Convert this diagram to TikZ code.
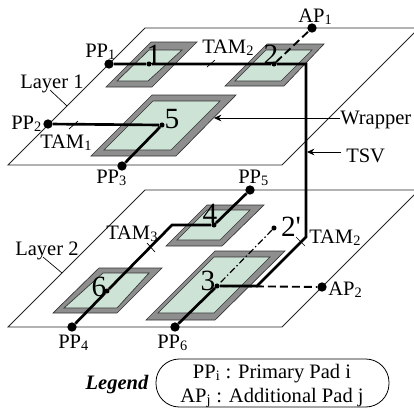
\documentclass[tikz,border=0pt]{standalone}
\usepackage{fontspec}
\setmainfont{Liberation Serif}
\usetikzlibrary{arrows.meta}
\definecolor{corefill}{RGB}{204,227,214}
\definecolor{wrapfill}{RGB}{142,142,142}
\tikzset{
	plane/.style={draw=black!85, line width=0.6pt},
	wrapper/.style={draw=black!80, fill=wrapfill, line width=0.5pt},
	core/.style={draw=black!80, fill=corefill, line width=0.5pt},
	pad/.style={circle, fill=black, inner sep=0pt, minimum size=7pt},
	pin/.style={circle, fill=black, inner sep=0pt, minimum size=3.8pt},
	tam/.style={line width=2pt},
	lbl/.style={inner sep=0pt, font=\fontsize{15.4}{15.4}\selectfont},
	num/.style={inner sep=0pt, font=\fontsize{22}{22}\selectfont},
	thin line/.style={line width=0.5pt},
	lead/.style={line width=0.6pt, -{Stealth[length=5.5pt,width=5pt]}}
}
\begin{document}
\begin{tikzpicture}[x=0.75pt, y=-0.75pt]
	\useasboundingbox (0,0) rectangle (414,408);
	% Layer 1
	\draw[plane] (8,165) -- (145,28) -- (419,28) -- (282,165) -- cycle;
	\draw[wrapper] (151,42) -- (197,42) -- (152,87) -- (106,87) -- cycle;
	\draw[core] (149,50) -- (182,50) -- (148,81) -- (117,81) -- cycle;
	\draw[wrapper] (267,44) -- (324,44) -- (284,86) -- (225,86) -- cycle;
	\draw[core] (266,50) -- (312,50) -- (281,81) -- (235,81) -- cycle;
	\draw[wrapper] (152,95) -- (236,95) -- (176,156) -- (91,156) -- cycle;
	\draw[core] (153,101) -- (220,101) -- (171,150) -- (104,150) -- cycle;

	% Layer 2
	\draw[plane] (8,327) -- (145,190) -- (419,190) -- (282,327) -- cycle;
	\draw[wrapper] (207,205) -- (264,205) -- (222,246) -- (166,246) -- cycle;
	\draw[core] (207,210) -- (250,210) -- (220,240) -- (177,240) -- cycle;
	\draw[wrapper] (99,268) -- (162,268) -- (117,313) -- (53,313) -- cycle;
	\draw[core] (103,273) -- (149,273) -- (117,308) -- (64,308) -- cycle;
	\draw[wrapper] (215,251) -- (285,251) -- (215,320) -- (146,320) -- cycle;
	\draw[core] (214,257) -- (270,257) -- (214,313) -- (158,313) -- cycle;

	% Pads and pins
	\node[pad] (pp1) at (109,64) {};
	\node[pad] (pp2) at (48,124) {};
	\node[pad] (pp3) at (122,166) {};
	\node[pad] (pp4) at (72,327) {};
	\node[pad] (pp5) at (250,190) {};
	\node[pad] (pp6) at (175,327) {};
	\node[pad] (ap1) at (312,28) {};
	\node[pad] (ap2) at (322,287) {};
	\node[pin] (core1) at (149,64) {};
	\node[pin] (core2) at (274,64) {};
	\node[pin] (core2b) at (274,228) {};
	\node[pin] (core3) at (217,286) {};
	\node[pin] (core4) at (214,225) {};
	\node[pin] (core5) at (162,125) {};
	\node[pin] (core6) at (107,291) {};
	\coordinate (tsvtop) at (306,64);
	\coordinate (tsvbot) at (306,237);
	\coordinate (bend2) at (257,286);
	\coordinate (bend3) at (172,225);

	% TAM wires
	\draw[tam] (pp1) -- (core1) -- (core2) -- (tsvtop) -- (tsvbot) -- (bend2) -- (core3);
	\draw[tam] (pp2) -- (core5) -- (pp3);
	\draw[tam] (pp4) -- (core6) -- (bend3) -- (core4) -- (pp5);
	\draw[tam] (pp6) -- (core3);
	\draw[tam, line width=1.4pt, dash pattern=on 6pt off 3pt] (core2) -- (ap1);
	\draw[tam, line width=1.4pt, dash pattern=on 6pt off 3pt] (core3) -- (ap2);
	\draw[thin line, line width=0.9pt, dash pattern=on 5pt off 2pt on 1pt off 2pt] (core2b) -- (core3);

	% Ticks and leaders
	\draw[thin line] (69,129) -- (78,121);
	\draw[thin line] (207,67) -- (215,60);
	\draw[thin line] (147,243) -- (155,252);
	\draw[thin line] (296,237) -- (305,246);
	\draw[thin line] (50,90) -- (67,106);
	\draw[thin line] (43,257) -- (62,273);
	\coordinate (wraptail) at (340,118);
	\coordinate (wraphead) at (214,118);
	\coordinate (tsvtail) at (341,152);
	\coordinate (tsvhead) at (307,152);
	\draw[lead] (wraptail) -- (wraphead);
	\draw[lead] (tsvtail) -- (tsvhead);

	% Labels
	\node[lbl, anchor=base west] (lpp1) at (85,57) {PP\textsubscript{1}};
	\node[lbl, anchor=base west] (lpp2) at (11,129) {PP\textsubscript{2}};
	\node[lbl, anchor=base west] (lpp3) at (96,183) {PP\textsubscript{3}};
	\node[lbl, anchor=base west] (lpp4) at (58,348) {PP\textsubscript{4}};
	\node[lbl, anchor=base west] (lpp5) at (238,183) {PP\textsubscript{5}};
	\node[lbl, anchor=base west] (lpp6) at (157,348) {PP\textsubscript{6}};
	\node[lbl, anchor=base west] (lap1) at (298,22) {AP\textsubscript{1}};
	\node[lbl, anchor=base west] (lap2) at (328,295) {AP\textsubscript{2}};
	\node[lbl, anchor=base west] (ltam1) at (40,148) {TAM\textsubscript{1}};
	\node[lbl, anchor=base west] (ltam2a) at (202,53) {TAM\textsubscript{2}};
	\node[lbl, anchor=base west] (ltam2b) at (309,243) {TAM\textsubscript{2}};
	\node[lbl, anchor=base west] (ltam3) at (106,239) {TAM\textsubscript{3}};
	\node[lbl, anchor=base west] (layer1) at (20,88) {Layer 1};
	\node[lbl, anchor=base west] (layer2) at (15,255) {Layer 2};
	\node[lbl, anchor=base west] (wrap) at (340,124) {Wrapper};
	\node[lbl, anchor=base west] (tsv) at (346,162) {TSV};
	\node[num, anchor=base] (n1) at (154,64) {1};
	\node[num, anchor=base] (n2) at (271,64) {2};
	\node[num, anchor=base] (n2b) at (291,236) {2\textquotesingle};
	\node[num, anchor=base] (n3) at (208,290) {3};
	\node[num, anchor=base] (n4) at (210,223) {4};
	\node[num, anchor=base] (n5) at (172,128) {5};
	\node[num, anchor=base] (n6) at (99,296) {6};

	% Legend
	\draw[line width=0.6pt, rounded corners=17.5pt] (156,359) rectangle (389,407);
	\node[lbl, anchor=base, font=\fontsize{15.4}{15.4}\selectfont\bfseries\itshape] (legend) at (117,389) {Legend};
	\node[lbl, anchor=base] (leg1) at (272,378) {PP\textsubscript{i} : Primary Pad i};
	\node[lbl, anchor=base] (leg2) at (272,402) {AP\textsubscript{j} : Additional Pad j};
\end{tikzpicture}
\end{document}
